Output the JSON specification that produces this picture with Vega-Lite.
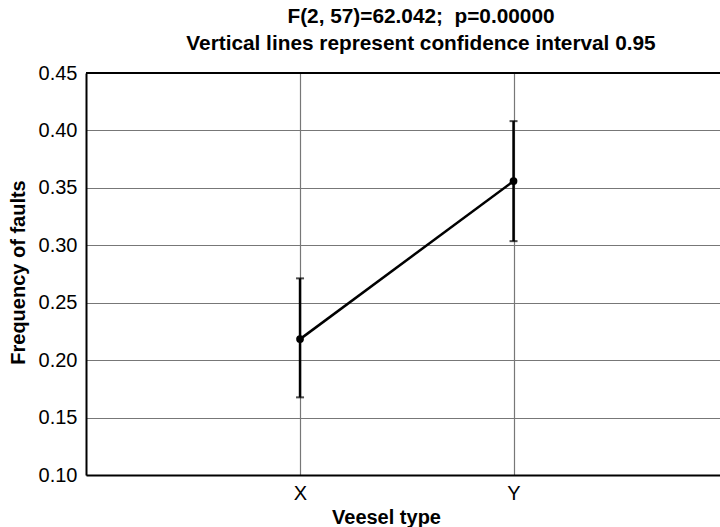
{
  "$schema": "https://vega.github.io/schema/vega-lite/v6.json",
  "width": 634,
  "height": 402,
  "autosize": {"type": "none"},
  "padding": {"left": 86, "top": 73, "right": 0, "bottom": 52},
  "background": "white",
  "config": {"view": {"stroke": null}, "font": "Liberation Sans"},
  "title": {
    "text": ["F(2, 57)=62.042; \u00a0p=0.00000", "Vertical lines represent confidence interval 0.95"],
    "fontSize": 20.8,
    "fontWeight": "bold",
    "font": "Liberation Sans",
    "color": "black",
    "lineHeight": 27,
    "dx": 18,
    "offset": 8
  },
  "data": {
    "values": [
      {"type": "X", "mean": 0.2183, "lower": 0.1676, "upper": 0.2712},
      {"type": "Y", "mean": 0.3559, "lower": 0.3036, "upper": 0.4081}
    ]
  },
  "layer": [
    {
      "mark": {"type": "rule", "color": "black", "strokeWidth": 2.5},
      "encoding": {
        "x": {
          "field": "type",
          "type": "nominal",
          "scale": {"type": "point", "domain": ["X", "Y"], "padding": 0.9848, "align": 0.509},
          "axis": {
            "title": "Veesel type",
            "titleFontSize": 20,
            "titleFontWeight": "bold",
            "titleColor": "black",
            "titleX": 300,
            "titleY": 48,
            "titleBaseline": "alphabetic",
            "labelFontSize": 20,
            "labelColor": "black",
            "labelAngle": 0,
            "labelPadding": 8,
            "ticks": false,
            "grid": true,
            "gridColor": "#777777",
            "gridWidth": 1.2,
            "domainColor": "black",
            "domainWidth": 2
          }
        },
        "y": {
          "field": "lower",
          "type": "quantitative",
          "scale": {"domain": [0.1, 0.45], "nice": false, "zero": false},
          "axis": {
            "title": "Frequency of faults",
            "titleFontSize": 20,
            "titleFontWeight": "bold",
            "titleColor": "black",
            "titleX": -68,
            "titleY": 199,
            "titleAngle": -90,
            "titleAlign": "center",
            "titleBaseline": "middle",
            "values": [0.1, 0.15, 0.2, 0.25, 0.3, 0.35, 0.4, 0.45],
            "format": ".2f",
            "labelFontSize": 20,
            "labelColor": "black",
            "labelPadding": 9,
            "ticks": false,
            "grid": true,
            "gridColor": "#777777",
            "gridWidth": 1.2,
            "domainColor": "black",
            "domainWidth": 2
          }
        },
        "y2": {"field": "upper"}
      }
    },
    {
      "mark": {"type": "tick", "color": "black", "size": 8, "thickness": 2},
      "encoding": {
        "x": {"field": "type", "type": "nominal"},
        "y": {"field": "upper", "type": "quantitative"}
      }
    },
    {
      "mark": {"type": "tick", "color": "black", "size": 8, "thickness": 2},
      "encoding": {
        "x": {"field": "type", "type": "nominal"},
        "y": {"field": "lower", "type": "quantitative"}
      }
    },
    {
      "mark": {"type": "line", "color": "black", "strokeWidth": 2.5},
      "encoding": {
        "x": {"field": "type", "type": "nominal"},
        "y": {"field": "mean", "type": "quantitative"}
      }
    },
    {
      "mark": {"type": "point", "filled": true, "shape": "circle", "color": "black", "size": 60, "opacity": 1},
      "encoding": {
        "x": {"field": "type", "type": "nominal"},
        "y": {"field": "mean", "type": "quantitative"}
      }
    },
    {
      "data": {"values": [{}]},
      "mark": {"type": "rule", "color": "black", "strokeWidth": 2},
      "encoding": {"y": {"datum": 0.45}}
    }
  ]
}
